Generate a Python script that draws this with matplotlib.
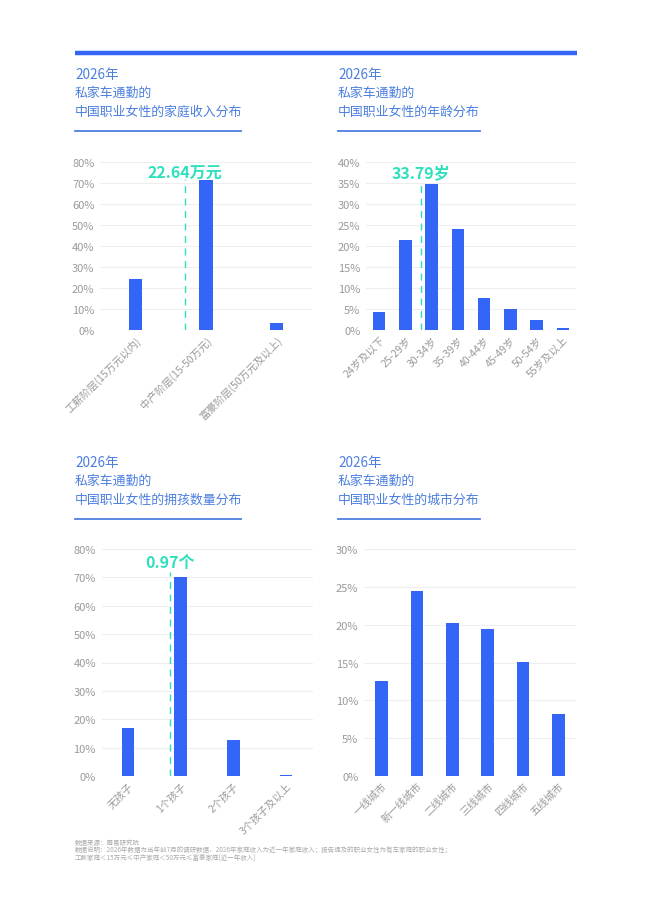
#!/usr/bin/env python3
import matplotlib
matplotlib.use('Agg')
import matplotlib.pyplot as plt
from matplotlib.ticker import FuncFormatter

plt.rcParams['font.family'] = ['Noto Sans CJK SC', 'DejaVu Sans']

# Data
income_cats = ['工薪阶层(15万元以内)', '中产阶层(15-50万元)', '富豪阶层(50万元及以上)']
income_vals = [24.5, 71.5, 3.5]
income_avg_pos = 0.70
income_avg_label = '22.64万元'

age_cats = ['24岁及以下', '25-29岁', '30-34岁', '35-39岁', '40-44岁', '45-49岁',
            '50-54岁', '55岁及以上']
age_vals = [4.2, 21.4, 34.7, 24.0, 7.6, 5.0, 2.5, 0.4]
age_avg_pos = 1.6
age_avg_label = '33.79岁'

kids_cats = ['无孩子', '1个孩子', '2个孩子', '3个孩子及以上']
kids_vals = [16.8, 70.0, 12.8, 0.4]
kids_avg_pos = 0.80
kids_avg_label = '0.97个'

city_cats = ['一线城市', '新一线城市', '二线城市', '三线城市', '四线城市', '五线城市']
city_vals = [12.5, 24.5, 20.2, 19.4, 15.1, 8.2]

titles = ['中国职业女性的家庭收入分布', '中国职业女性的年龄分布',
          '中国职业女性的拥孩数量分布', '中国职业女性的城市分布']

BLUE = '#3366f6'
TITLE_BLUE = '#4c7fe0'
TEAL = '#2fe0bd'
GRAY = '#9a9a9a'

W, H = 650, 912
fig = plt.figure(figsize=(W / 100, H / 100), dpi=100)


def fx(px):
    return px / W


def fy(py):
    return 1 - py / H


# top band
fig.add_artist(plt.Line2D([fx(75), fx(577)], [fy(53.5), fy(53.5)],
                          color=BLUE, lw=3.2, solid_capstyle='butt'))


def header(x0, y0, line_len, title):
    lines = ['2026年', '私家车通勤的', title]
    sizes = [9.8, 9.3, 9.3]
    for i, t in enumerate(lines):
        fig.text(fx(x0), fy(y0 + i * 18.5), t, color=TITLE_BLUE,
                 fontsize=sizes[i], va='center', ha='left')
    fig.add_artist(plt.Line2D([fx(x0), fx(x0 + line_len)],
                              [fy(y0 + 57), fy(y0 + 57)],
                              color=TITLE_BLUE, lw=1.3))


def panel(rect, cats, vals, ymax, ystep, width, avg=None, avg_top=None,
          avg_label_y=None):
    ax = fig.add_axes(rect)
    x = list(range(len(cats)))
    ax.bar(x, vals, width=width, color=BLUE, zorder=3)
    ax.set_xlim(-0.5, len(cats) - 0.5)
    ax.set_ylim(0, ymax)
    ax.set_yticks(range(0, ymax + 1, ystep))
    ax.yaxis.set_major_formatter(FuncFormatter(lambda v, p: '%d%%' % v))
    ax.grid(axis='y', color='#eeeeee', lw=0.8, zorder=0)
    for s in ax.spines.values():
        s.set_visible(False)
    ax.tick_params(axis='both', length=0, colors=GRAY, labelsize=8)
    ax.tick_params(axis='y', pad=4)
    ax.set_xticks(x)
    ax.set_xticklabels(cats, rotation=45, ha='right', rotation_mode='anchor',
                       color=GRAY, fontsize=7.5)
    ax.tick_params(axis='x', pad=3)
    if avg is not None:
        pos, label = avg
        ax.plot([pos, pos], [0, avg_top], ls=(0, (5, 4)), color=TEAL, lw=1,
                zorder=4)
        ax.text(pos, avg_label_y, label, color=TEAL, fontsize=11.5,
                fontweight='bold', ha='center', va='center', zorder=5)
    return ax


header(75, 75, 166, titles[0])
header(338, 75, 142, titles[1])
header(75, 463, 166, titles[2])
header(338, 463, 142, titles[3])

panel([fx(100), fy(331), fx(212), 168 / H], income_cats, income_vals, 80, 10,
      0.19, (income_avg_pos, income_avg_label), 72, 75)
panel([fx(366), fy(331), fx(210), 168 / H], age_cats, age_vals, 40, 5,
      0.48, (age_avg_pos, age_avg_label), 34.8, 37.5)
panel([fx(101.5), fy(777), fx(211), 227 / H], kids_cats, kids_vals, 80, 10,
      0.24, (kids_avg_pos, kids_avg_label), 72, 75.5)
panel([fx(364), fy(777), fx(212), 227 / H], city_cats, city_vals, 30, 5,
      0.36)

notes = ['数据来源：腾易研究院',
         '数据说明：2026年数据为当年前7月的调研数据，2026年家庭收入为近一年家庭收入；报告提及的职业女性为有车家庭的职业女性；',
         '工薪家庭＜15万元≤中产家庭＜50万元≤富豪家庭(近一年收入)']
for i, t in enumerate(notes):
    fig.text(fx(75), fy(843 + i * 7.6), t, color='#aaaaaa', fontsize=4.65,
             va='center', ha='left')

fig.savefig('out.png', dpi=100)
